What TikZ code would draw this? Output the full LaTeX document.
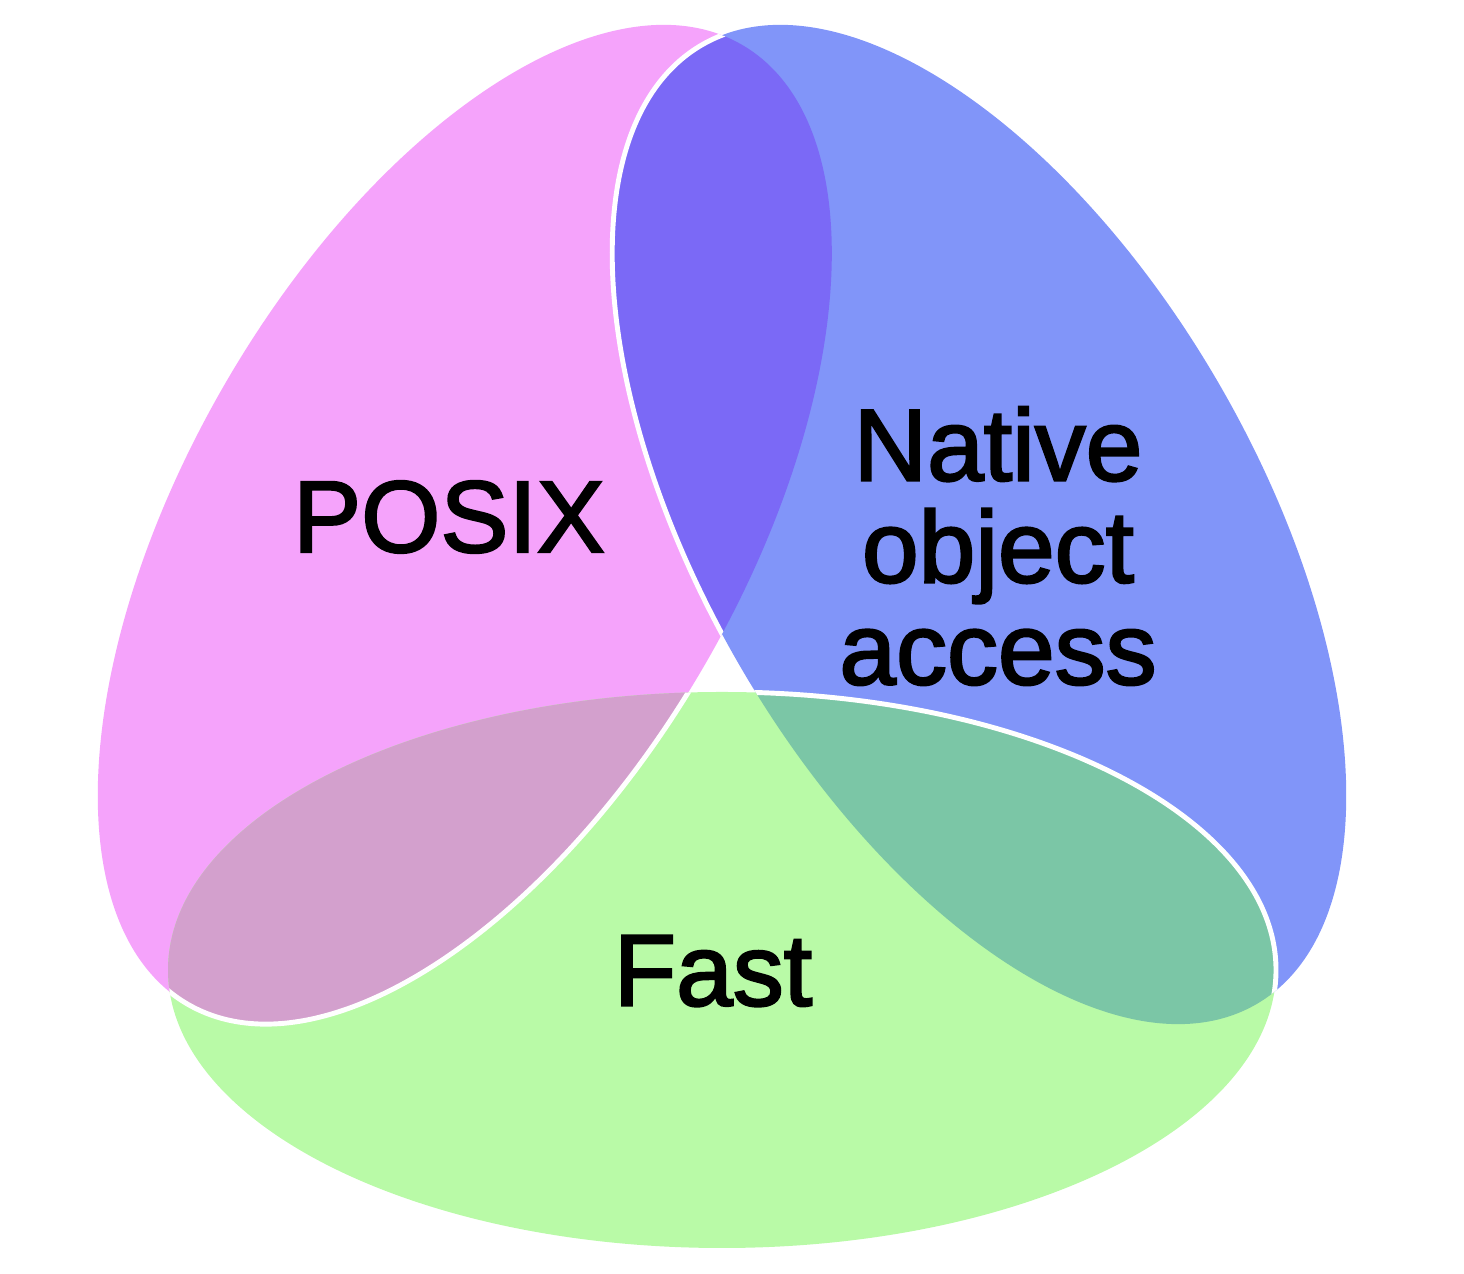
\documentclass[tikz,border=0pt]{standalone}
\usepackage{fontspec}
\newfontfamily\vennfont[FakeBold=2.2]{Liberation Sans}
\usepackage{xcolor}
\definecolor{colorP}{HTML}{F5A3FB}
\definecolor{colorB}{HTML}{8195F9}
\definecolor{colorG}{HTML}{B9FAA7}
\definecolor{colorPB}{HTML}{7B69F6}
\definecolor{colorPG}{HTML}{D3A0CD}
\definecolor{colorBG}{HTML}{7BC6A6}

\begin{document}
\begin{tikzpicture}[
		ring/.style={x radius=5.54, y radius=2.78},
		rim/.style={draw=white, line width=1.4pt},
		settext/.style={font=\vennfont\fontsize{29}{29}\selectfont, align=center, text=black},
	]
		\useasboundingbox (0,0) rectangle (14.64,12.74);
		\coordinate (c) at (7.22,6.01);
		\coordinate (cP) at ([shift={(150:2.97)}]c);
		\coordinate (cB) at ([shift={(30:2.97)}]c);
		\coordinate (cG) at ([shift={(270:2.97)}]c);
		\def\ringP{(cP) ellipse [ring, rotate=60]}
		\def\ringB{(cB) ellipse [ring, rotate=-60]}
		\def\ringG{(cG) ellipse [ring]}
		%
		\fill[colorP] \ringP;
		\fill[colorB] \ringB;
		\fill[colorG] \ringG;
		\begin{scope} \clip \ringP; \fill[colorPB] \ringB; \end{scope}
		\begin{scope} \clip \ringP; \fill[colorPG] \ringG; \end{scope}
		\begin{scope} \clip \ringB; \fill[colorBG] \ringG; \end{scope}
		%
		\begin{scope} \clip \ringP; \draw[rim] \ringB; \end{scope}
		\begin{scope} \clip \ringG; \draw[rim] \ringP; \end{scope}
		\begin{scope} \clip \ringB; \draw[rim] \ringG; \end{scope}
		%
		\node[settext] (posix) at (4.49,7.57) {POSIX};
		\node[settext] (native) at (9.98,7.28) {Native\\object\\access};
		\node[settext] (fast) at (7.13,3.03) {Fast};
	\end{tikzpicture}
\end{document}
